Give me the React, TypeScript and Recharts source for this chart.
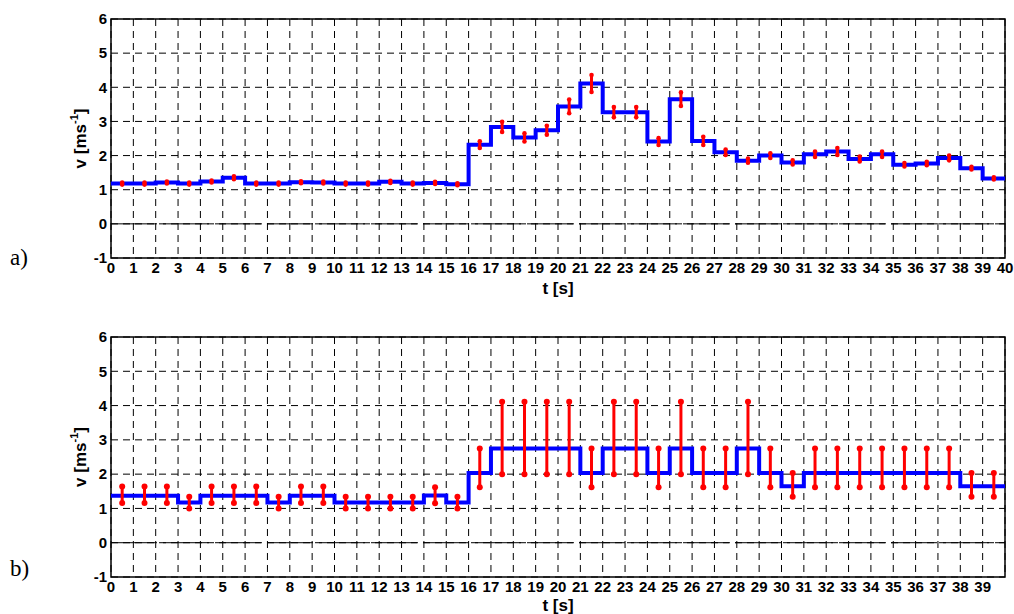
import React from "react";
import {
  ComposedChart,
  Line,
  XAxis,
  YAxis,
  CartesianGrid,
  ReferenceLine,
  ReferenceArea
} from "recharts";

// start of each 1 s interval
const SECONDS = [
  0, 1, 2, 3, 4, 5, 6, 7, 8, 9, 10, 11, 12, 13, 14, 15, 16, 17, 18, 19,
  20, 21, 22, 23, 24, 25, 26, 27, 28, 29, 30, 31, 32, 33, 34, 35, 36, 37, 38, 39
];

// a) measured speed per interval and its error half-width
const SPEED_A = [
  1.18, 1.18, 1.21, 1.18, 1.24, 1.35, 1.18, 1.18, 1.22, 1.21,
  1.18, 1.18, 1.23, 1.18, 1.2, 1.16, 2.32, 2.84, 2.53, 2.74,
  3.44, 4.11, 3.27, 3.27, 2.41, 3.65, 2.43, 2.1, 1.85, 2.0,
  1.8, 2.04, 2.12, 1.9, 2.04, 1.73, 1.77, 1.93, 1.63, 1.33
];
const ERR_A = [
  0.03, 0.03, 0.03, 0.03, 0.03, 0.04, 0.03, 0.03, 0.03, 0.03,
  0.03, 0.03, 0.03, 0.03, 0.03, 0.03, 0.1, 0.15, 0.12, 0.13,
  0.2, 0.25, 0.15, 0.15, 0.1, 0.2, 0.12, 0.08, 0.06, 0.07,
  0.06, 0.08, 0.1, 0.07, 0.08, 0.05, 0.05, 0.07, 0.04, 0.03
];

// b) quantised speed per interval and its allowed range
const SPEED_B = [
  1.37, 1.37, 1.37, 1.17, 1.37, 1.37, 1.37, 1.17, 1.37, 1.37,
  1.17, 1.17, 1.17, 1.17, 1.38, 1.17, 2.03, 2.75, 2.75, 2.75,
  2.75, 2.03, 2.75, 2.75, 2.03, 2.75, 2.03, 2.03, 2.75, 2.03,
  1.65, 2.03, 2.03, 2.03, 2.03, 2.03, 2.03, 2.03, 1.65, 1.65
];
const LOW_B = [
  1.16, 1.16, 1.16, 1.0, 1.16, 1.16, 1.16, 1.0, 1.16, 1.16,
  1.0, 1.0, 1.0, 1.0, 1.15, 1.0, 1.62, 2.0, 2.0, 2.0,
  2.0, 1.62, 2.0, 2.0, 1.62, 2.0, 1.62, 1.62, 2.0, 1.62,
  1.34, 1.62, 1.62, 1.62, 1.62, 1.62, 1.62, 1.62, 1.34, 1.34
];
const HIGH_B = [
  1.64, 1.64, 1.64, 1.34, 1.64, 1.64, 1.64, 1.34, 1.64, 1.64,
  1.34, 1.34, 1.34, 1.34, 1.62, 1.34, 2.75, 4.11, 4.11, 4.11,
  4.11, 2.75, 4.11, 4.11, 2.75, 4.11, 2.75, 2.75, 4.11, 2.75,
  2.03, 2.75, 2.75, 2.75, 2.75, 2.75, 2.75, 2.75, 2.03, 2.03
];

const X_TICKS_A = [
  0, 1, 2, 3, 4, 5, 6, 7, 8, 9, 10, 11, 12, 13, 14, 15, 16, 17, 18, 19, 20,
  21, 22, 23, 24, 25, 26, 27, 28, 29, 30, 31, 32, 33, 34, 35, 36, 37, 38, 39, 40
];
const X_TICKS_B = [
  0, 1, 2, 3, 4, 5, 6, 7, 8, 9, 10, 11, 12, 13, 14, 15, 16, 17, 18, 19,
  20, 21, 22, 23, 24, 25, 26, 27, 28, 29, 30, 31, 32, 33, 34, 35, 36, 37, 38, 39
];
const Y_TICKS = [-1, 0, 1, 2, 3, 4, 5, 6];

const BLUE = "#0000ff";
const RED = "#ff0000";
const FONT = "'Liberation Sans', Arial, sans-serif";
const tickStyle = { fill: "#000", fontFamily: FONT, fontWeight: 700, fontSize: 15 };

function YLabel(props: any) {
  const vb = props.viewBox || {};
  const cx = 80;
  const cy = vb.y + vb.height / 2;
  return (
    <text
      transform={`translate(${cx},${cy}) rotate(-90)`}
      textAnchor="middle"
      dominantBaseline="central"
      fontFamily={FONT}
      fontWeight={700}
      fontSize={17}
      fill="#000"
    >
      <tspan>v [ms</tspan>
      <tspan dy={-6} fontSize={11}>-1</tspan>
      <tspan dy={6}>]</tspan>
    </text>
  );
}

function XLabel(props: any) {
  const vb = props.viewBox || {};
  return (
    <text
      x={vb.x + vb.width / 2}
      y={vb.y + props.gap}
      textAnchor="middle"
      dominantBaseline="central"
      fontFamily={FONT}
      fontWeight={700}
      fontSize={17}
      fill="#000"
    >
      t [s]
    </text>
  );
}

type PanelProps = {
  speed: number[];
  lows: number[];
  highs: number[];
  xTicks: number[];
  height: number;
  axisHeight: number;
  labelGap: number;
  dotR: number;
  barW: number;
};

function Panel({ speed, lows, highs, xTicks, height, axisHeight, labelGap, dotR, barW }: PanelProps) {
  const steps = SECONDS.map((t, i) => ({ t, v: speed[i] }));
  steps.push({ t: 40, v: speed[speed.length - 1] });

  return (
    <ComposedChart
      width={1014}
      height={height}
      margin={{ top: 19, right: 9, left: 61, bottom: 0 }}
    >
      <CartesianGrid stroke="#000" strokeDasharray="7 5" strokeWidth={1} />
      <XAxis
        dataKey="t"
        type="number"
        domain={[0, 40]}
        ticks={xTicks}
        interval={0}
        allowDataOverflow
        height={axisHeight}
        tick={tickStyle}
        tickLine={false}
        axisLine={false}
        tickSize={2}
        tickMargin={2}
        label={<XLabel gap={labelGap} />}
      />
      <YAxis
        type="number"
        domain={[-1, 6]}
        ticks={Y_TICKS}
        interval={0}
        width={50}
        tick={tickStyle}
        tickLine={false}
        axisLine={false}
        tickSize={2}
        tickMargin={2}
        label={<YLabel />}
      />
      <ReferenceLine y={0} stroke="#000" strokeDasharray="46 6" strokeWidth={1} />
      <ReferenceArea x1={0} x2={40} y1={-1} y2={6} fill="none" stroke="#000" strokeWidth={1.5} />
      <Line
        data={steps}
        dataKey="v"
        type="stepAfter"
        stroke={BLUE}
        strokeWidth={4}
        dot={false}
        isAnimationActive={false}
      />
      {SECONDS.map((t, i) => (
        <Line
          key={`r${i}`}
          data={[
            { t: t + 0.5, v: lows[i] },
            { t: t + 0.5, v: highs[i] }
          ]}
          dataKey="v"
          stroke={RED}
          strokeWidth={barW}
          dot={{ r: dotR, fill: RED, stroke: "none" }}
          isAnimationActive={false}
        />
      ))}
    </ComposedChart>
  );
}

export default function App() {
  const lowsA = SPEED_A.map((v, i) => v - ERR_A[i]);
  const highsA = SPEED_A.map((v, i) => v + ERR_A[i]);
  const caption = {
    position: "absolute" as const,
    left: 10,
    fontFamily: "'Liberation Serif', 'DejaVu Serif', serif",
    fontSize: 23,
    color: "#000",
    lineHeight: "23px"
  };

  return (
    <div style={{ position: "absolute", left: 0, top: 0, width: 1014, height: 614, background: "#fff" }}>
      <div style={{ position: "absolute", left: 0, top: 0 }}>
        <Panel
          speed={SPEED_A}
          lows={lowsA}
          highs={highsA}
          xTicks={X_TICKS_A}
          height={300}
          axisHeight={42}
          labelGap={30}
          dotR={2.3}
          barW={3}
        />
      </div>
      <div style={{ position: "absolute", left: 0, top: 318 }}>
        <Panel
          speed={SPEED_B}
          lows={LOW_B}
          highs={HIGH_B}
          xTicks={X_TICKS_B}
          height={296}
          axisHeight={37}
          labelGap={28}
          dotR={3}
          barW={3}
        />
      </div>
      <div style={{ ...caption, top: 246 }}>a)</div>
      <div style={{ ...caption, top: 557 }}>b)</div>
    </div>
  );
}
